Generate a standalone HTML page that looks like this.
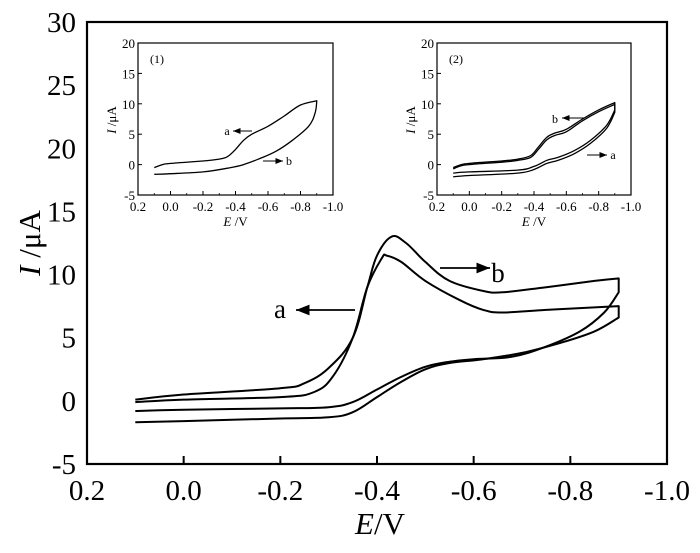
<!DOCTYPE html>
<html><head><meta charset="utf-8"><style>
html,body{margin:0;padding:0;background:#fff;}
svg{display:block;}
svg text{font-family:"Liberation Serif","DejaVu Serif",serif;}
</style></head><body>
<svg id="chart" width="700" height="553" viewBox="0 0 700 553" xmlns="http://www.w3.org/2000/svg" font-family="Liberation Serif, serif"></svg>
<script>
const xTicks=[0.2,0.0,-0.2,-0.4,-0.6,-0.8,-1.0];
const xTickLabels=["0.2","0.0","-0.2","-0.4","-0.6","-0.8","-1.0"];
const yTicksMain=[30,25,20,15,10,5,0,-5];
const yTicksInset=[20,15,10,5,0,-5];
// main series (E, I)
const mainBE=[0.1,0,-0.2,-0.25,-0.3,-0.35,-0.38,-0.4,-0.43,-0.46,-0.5,-0.55,-0.62,-0.66,-0.75,-0.85,-0.9,-0.9,-0.87,-0.82,-0.75,-0.68,-0.6,-0.55,-0.5,-0.45,-0.4,-0.35,-0.3,-0.2,0,0.1];
const mainBI=[0.1,0.5,1.0,1.4,2.6,5,9,11.5,13,12.5,11,9.5,8.7,8.6,9.0,9.5,9.7,8.6,7,5.5,4.3,3.5,3.3,3.1,2.7,1.9,0.9,-0.1,-0.5,-0.6,-0.7,-0.8];
const mainAE=[0.1,0,-0.2,-0.27,-0.31,-0.35,-0.38,-0.41,-0.42,-0.45,-0.5,-0.57,-0.62,-0.66,-0.75,-0.85,-0.9,-0.9,-0.85,-0.78,-0.7,-0.62,-0.55,-0.5,-0.45,-0.4,-0.35,-0.3,-0.2,0,0.1];
const mainAI=[-0.1,0.1,0.3,0.7,2,5,9,11.3,11.5,11,9.5,8,7.2,7.0,7.2,7.4,7.5,6.6,5.5,4.6,3.8,3.3,3.0,2.5,1.5,0.3,-0.9,-1.3,-1.4,-1.6,-1.7];
// inset 1
const in1E=[0.1,0.05,0,-0.2,-0.3,-0.35,-0.4,-0.45,-0.5,-0.6,-0.7,-0.8,-0.9,-0.89,-0.85,-0.75,-0.65,-0.55,-0.45,-0.35,-0.2,0,0.1];
const in1I=[-0.5,0,0.2,0.6,0.9,1.3,2.5,4,5,6.3,8,9.8,10.5,8.5,6.3,4,2.2,1,0,-0.6,-1.2,-1.5,-1.6];
// inset 2
const in2E=[0.1,0.05,0,-0.2,-0.3,-0.38,-0.43,-0.48,-0.53,-0.6,-0.7,-0.8,-0.9,-0.9,-0.85,-0.75,-0.65,-0.55,-0.48,-0.4,-0.3,0,0.1];
const in2AI=[-0.5,0,0.2,0.6,0.9,1.5,3,4.5,5.2,5.8,7.5,9,10.2,9,6.5,4,2.3,1.2,0.7,-0.3,-0.9,-1.2,-1.4];
const in2BI=[-0.7,-0.2,0,0.4,0.7,1.2,2.6,4.1,4.8,5.4,7.2,8.7,9.9,8.6,6.0,3.5,1.8,0.7,0.2,-0.8,-1.4,-1.8,-2.0];

const NS="http://www.w3.org/2000/svg";
const FONT="Liberation Serif, DejaVu Serif, serif";
const svg=document.getElementById('chart');
function mk(tag,attrs,parent){const e=document.createElementNS(NS,tag);for(const k in attrs)e.setAttribute(k,attrs[k]);(parent||svg).appendChild(e);return e;}
function axes(x0,x1,y0,y1,yMax,yMin){return {x:E=>x0+(0.2-E)/1.2*(x1-x0),y:I=>y0+(yMax-I)/(yMax-yMin)*(y1-y0)};}
function spline(P){
 let d='';const t=0.18;
 for(let i=0;i<P.length-1;i++){
  const p0=P[Math.max(0,i-1)],p1=P[i],p2=P[i+1],p3=P[Math.min(P.length-1,i+2)];
  const c1=[p1[0]+(p2[0]-p0[0])*t,p1[1]+(p2[1]-p0[1])*t];
  const c2=[p2[0]-(p3[0]-p1[0])*t,p2[1]-(p3[1]-p1[1])*t];
  d+='C'+c1[0].toFixed(1)+','+c1[1].toFixed(1)+' '+c2[0].toFixed(1)+','+c2[1].toFixed(1)+' '+p2[0].toFixed(1)+','+p2[1].toFixed(1);
 }
 return d;}
function path(ax,E,I,w,name,g){
 const P=E.map((e,i)=>[ax.x(e),ax.y(I[i])]);
 // split at turnaround (minimum E)
 let mn=Math.min(...E);let k=E.indexOf(mn);
 let k2=k;while(k2+1<E.length&&E[k2+1]===mn)k2++;
 const A=P.slice(0,k+1),B=P.slice(k2);
 let d='M'+A[0][0].toFixed(1)+','+A[0][1].toFixed(1)+spline(A);
 if(k2>k)d+='L'+B[0][0].toFixed(1)+','+B[0][1].toFixed(1);
 d+=spline(B);
 const p=mk('path',{d:d,fill:'none',stroke:'#000','stroke-width':w,'stroke-linejoin':'round'},g);
 
 }
function arrow(x1,x2,y,w,g,name){const l=mk('line',{x1:x1,y1:y,x2:x2,y2:y,stroke:'#000','stroke-width':w},g);
 
 
 const dir=x2>x1?1:-1,h=w*3;mk('polygon',{points:`${x2},${y} ${x2-dir*h*2.5},${y-h} ${x2-dir*h*2.5},${y+h}`,fill:'#000'},g);}
function txt(x,y,s,size,anchor,name,g,extra){const t=mk('text',Object.assign({x:x,y:y,'font-size':size,'text-anchor':anchor||'middle','font-family':FONT},extra||{}),g);t.textContent=s;
 
 return t;}

// MAIN
const M=axes(87,667,22,464,30,-5);
const gm=mk('g',{});


mk('rect',{x:87,y:22,width:580,height:442,fill:'none',stroke:'#000','stroke-width':2.2},gm);
xTicks.forEach((v,i)=>{const x=M.x(v);
 if(i>0&&i<xTicks.length-1)mk('line',{x1:x,y1:464,x2:x,y2:456,stroke:'#000','stroke-width':2},gm);
 txt(x,500,xTickLabels[i],29,'middle','x-tick-label',gm);});
yTicksMain.forEach(v=>txt(76,M.y(v)+10,String(v),29,'end','y-tick-label',gm));
path(M,mainAE,mainAI,2,'series-a',gm);
path(M,mainBE,mainBI,2,'series-b',gm);
txt(280,318,'a',27,'middle','label-a',gm);
arrow(355,296,310,1.8,gm,'arrow-a');
txt(498,282,'b',27,'middle','label-b',gm);
arrow(440,490,268,1.8,gm,'arrow-b');
const xt=txt(380,534,'',31,'middle','x-axis-title',gm);
xt.innerHTML='<tspan font-style="italic">E</tspan>/V';
const yt=txt(0,0,'',31,'middle','y-axis-title',gm,{transform:'translate(40,243) rotate(-90)'});
yt.innerHTML='<tspan font-style="italic">I</tspan> /μA';

function inset(x0,x1,series,tag,labels){
 const A=axes(x0,x1,43,195,20,-5);
 const g=mk('g',{});
 
 
 mk('rect',{x:x0,y:43,width:x1-x0,height:152,fill:'none',stroke:'#000','stroke-width':1.2},g);
 xTicks.forEach((v,i)=>{const x=A.x(v);
  mk('line',{x1:x,y1:195,x2:x,y2:191,stroke:'#000','stroke-width':1},g);
  if(i<xTicks.length-1){const xm=A.x(v-0.1);mk('line',{x1:xm,y1:195,x2:xm,y2:193,stroke:'#000','stroke-width':0.8},g);}
  txt(x,211,xTickLabels[i],13,'middle','inset-x-tick-label',g);});
 yTicksInset.forEach(v=>{const y=A.y(v);
  mk('line',{x1:x0,y1:y,x2:x0+4,y2:y,stroke:'#000','stroke-width':1},g);
  txt(x0-3,y+5,String(v),13,'end','inset-y-tick-label',g);});
 series.forEach((s,i)=>path(A,s[0],s[1],1.3,'inset-series-'+i,g));
 txt(x0+12,63,'('+tag+')',12,'start','inset-tag',g);
 const e=txt((x0+x1)/2,226,'',13,'middle','inset-x-axis-title',g);
 e.innerHTML='<tspan font-style="italic">E</tspan> /V';
 const yl=txt(0,0,'',13,'middle','inset-y-axis-title',g,{transform:`translate(${x0-22},120) rotate(-90)`});
 yl.innerHTML='<tspan font-style="italic">I</tspan> /μA';
 labels.forEach(l=>{txt(l.tx,l.ty,l.s,12,'middle','inset-label-'+l.s,g);arrow(l.a1,l.a2,l.ay,1,g,'inset-arrow-'+l.s);});
}
inset(138,333,[[in1E,in1I]],'1',[{s:'a',tx:227,ty:135,a1:252,a2:233,ay:131},{s:'b',tx:289,ty:165,a1:263,a2:283,ay:161}]);
inset(437,631,[[in2E,in2AI],[in2E,in2BI]],'2',[{s:'b',tx:555,ty:123,a1:584,a2:562,ay:118},{s:'a',tx:613,ty:159,a1:587,a2:607,ay:155}]);
</script>
</body></html>
